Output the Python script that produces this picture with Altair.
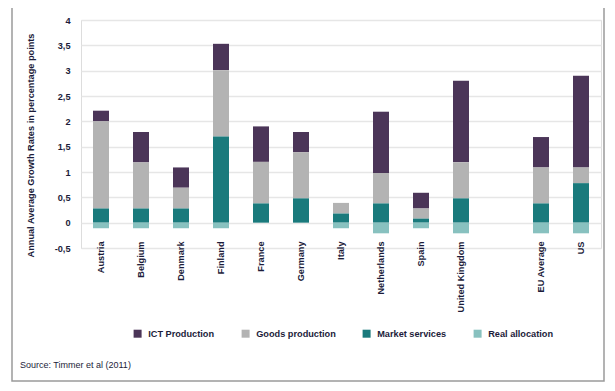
import altair as alt
import pandas as pd

countries = ["Austria", "Belgium", "Denmark", "Finland", "France", "Germany",
             "Italy", "Netherlands", "Spain", "United Kingdom", "EU Average", "US"]
ict = [0.21, 0.60, 0.40, 0.52, 0.70, 0.40, 0.00, 1.21, 0.31, 1.61, 0.60, 1.81]
goods = [1.72, 0.91, 0.41, 1.31, 0.82, 0.91, 0.21, 0.60, 0.20, 0.71, 0.71, 0.31]
market = [0.28, 0.28, 0.28, 1.70, 0.38, 0.48, 0.18, 0.38, 0.08, 0.48, 0.38, 0.78]
realloc = [-0.11, -0.11, -0.11, -0.11, 0.00, 0.00, -0.11, -0.21, -0.11, -0.21, -0.21, -0.21]

series = ["ICT Production", "Goods production", "Market services", "Real allocation"]
colors = ["#4b3558", "#b3b3b3", "#1a7a7c", "#88c1bf"]
stack_order = [3, 2, 1, 0]
y_ticks = [-0.5, 0, 0.5, 1, 1.5, 2, 2.5, 3, 3.5, 4]
x_domain = countries[:10] + [" "] + countries[10:]

rows = []
for i, c in enumerate(countries):
    for s, vals, o in zip(series, [ict, goods, market, realloc], stack_order):
        rows.append({"country": c, "series": s, "value": vals[i], "ord": o})
df = pd.DataFrame(rows)

TXT = "#1c1c3a"
FONT = "Liberation Sans"
FS = 9.2
FW = "bold"

bars = alt.Chart(df).mark_bar(size=16).encode(
    x=alt.X("country:N", scale=alt.Scale(domain=x_domain, paddingInner=0.6, paddingOuter=0.3),
            axis=alt.Axis(title=None, labelAngle=-90, labelAlign="right", labelBaseline="middle",
                          labelPadding=-7, domain=False, ticks=False, grid=False,
                          labelFont=FONT, labelFontSize=FS, labelFontWeight=FW, labelColor=TXT)),
    y=alt.Y("value:Q", stack="zero", scale=alt.Scale(domain=[-0.5, 4], nice=False),
            axis=alt.Axis(title="Annual Average Growth Rates in percentage points",
                          values=y_ticks, domain=False, ticks=False,
                          labelExpr="replace(toString(datum.value), '.', ',')",
                          labelPadding=11, labelFont=FONT, labelFontSize=FS,
                          labelFontWeight=FW, labelColor=TXT,
                          titleFont=FONT, titleFontSize=FS, titleFontWeight=FW,
                          titleColor=TXT, titleX=-46, titleY=125,
                          gridColor="#e6e6e6", gridWidth=1.5)),
    color=alt.Color("series:N", scale=alt.Scale(domain=series, range=colors),
                    legend=alt.Legend(title=None, orient="none", legendX=52, legendY=309,
                                      direction="horizontal", symbolType="square",
                                      symbolSize=64, symbolStrokeWidth=0,
                                      columnPadding=26, labelOffset=6,
                                      labelFont=FONT, labelFontSize=FS, labelFontWeight=FW,
                                      labelColor=TXT)),
    order=alt.Order("ord:Q", sort="ascending"),
)

source = alt.Chart(pd.DataFrame({"t": ["Source: Timmer et al (2011)"]})).mark_text(
    align="left", baseline="middle", font=FONT, fontSize=9, color=TXT
).encode(x=alt.value(-61), y=alt.value(345), text="t:N")

frame = alt.Chart(pd.DataFrame({"a": [0]})).mark_rect(
    fill=None, stroke="#9a9a9a", strokeWidth=1.5
).encode(x=alt.value(-69), x2=alt.value(523), y=alt.value(-14), y2=alt.value(361))

chart = alt.layer(bars, source, frame).properties(
    width=520, height=228,
    autosize=alt.AutoSizeParams(type="none"),
    padding={"left": 73, "top": 12, "right": 6, "bottom": 135},
).configure_view(stroke=None).configure(background="white")

chart.save("out.html", embed_options={"renderer": "svg", "actions": False})
